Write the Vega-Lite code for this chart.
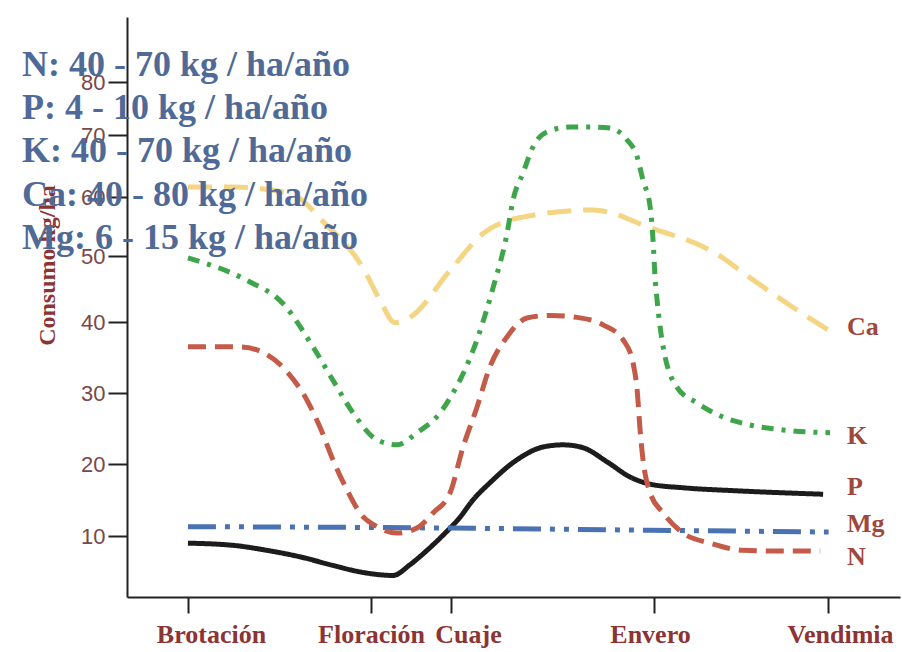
{
  "$schema": "https://vega.github.io/schema/vega-lite/v6.json",
  "width": 773,
  "height": 580,
  "autosize": {"type": "none"},
  "padding": {"left": 127, "top": 17, "right": 2, "bottom": 55},
  "background": "white",
  "config": {"view": {"stroke": null}},
  "title": {
    "text": ["N: 40 - 70 kg / ha/año", "P: 4 - 10 kg / ha/año", "K: 40 - 70 kg / ha/año", "Ca: 40 - 80 kg / ha/año", "Mg: 6 - 15 kg / ha/año"],
    "orient": "top",
    "anchor": "start",
    "frame": "group",
    "offset": 0,
    "dx": -105,
    "dy": 268,
    "baseline": "alphabetic",
    "align": "left",
    "font": "Liberation Serif",
    "fontSize": 36,
    "fontWeight": "bold",
    "color": "#506a98",
    "lineHeight": 43.3
  },
  "datasets": {
    "curves": [
      {"series": "Ca", "t": 0, "v": 61.6},
      {"series": "Ca", "t": 2.46, "v": 61.6},
      {"series": "Ca", "t": 5.57, "v": 60.6},
      {"series": "Ca", "t": 7.49, "v": 55.5},
      {"series": "Ca", "t": 9.56, "v": 48.2},
      {"series": "Ca", "t": 10.49, "v": 43.3},
      {"series": "Ca", "t": 11.31, "v": 39.9},
      {"series": "Ca", "t": 12.13, "v": 40.7},
      {"series": "Ca", "t": 14.32, "v": 47.8},
      {"series": "Ca", "t": 16.12, "v": 53.8},
      {"series": "Ca", "t": 17.98, "v": 56.4},
      {"series": "Ca", "t": 22.13, "v": 57.8},
      {"series": "Ca", "t": 25.25, "v": 54.8},
      {"series": "Ca", "t": 28.91, "v": 50.3},
      {"series": "Ca", "t": 30.71, "v": 46.7},
      {"series": "Ca", "t": 32.9, "v": 42.5},
      {"series": "Ca", "t": 34.97, "v": 38.9},

      {"series": "K", "t": 0, "v": 49.7},
      {"series": "K", "t": 3.22, "v": 46.3},
      {"series": "K", "t": 5.19, "v": 42.8},
      {"series": "K", "t": 6.83, "v": 36.5},
      {"series": "K", "t": 7.92, "v": 31.8},
      {"series": "K", "t": 9.02, "v": 27.2},
      {"series": "K", "t": 10.33, "v": 23.4},
      {"series": "K", "t": 11.42, "v": 22.7},
      {"series": "K", "t": 12.51, "v": 24.4},
      {"series": "K", "t": 13.77, "v": 27.2},
      {"series": "K", "t": 14.32, "v": 29.3},
      {"series": "K", "t": 15.79, "v": 37.5},
      {"series": "K", "t": 16.67, "v": 45.2},
      {"series": "K", "t": 17.43, "v": 53.8},
      {"series": "K", "t": 17.76, "v": 59.5},
      {"series": "K", "t": 18.31, "v": 63.9},
      {"series": "K", "t": 18.85, "v": 68.1},
      {"series": "K", "t": 19.62, "v": 70.6},
      {"series": "K", "t": 20.87, "v": 71.5},
      {"series": "K", "t": 21.97, "v": 71.5},
      {"series": "K", "t": 23.06, "v": 71.3},
      {"series": "K", "t": 23.99, "v": 69.2},
      {"series": "K", "t": 24.54, "v": 66.5},
      {"series": "K", "t": 24.86, "v": 62.7},
      {"series": "K", "t": 25.25, "v": 58.3},
      {"series": "K", "t": 25.41, "v": 52.6},
      {"series": "K", "t": 25.52, "v": 46.7},
      {"series": "K", "t": 25.63, "v": 43.3},
      {"series": "K", "t": 25.96, "v": 36.5},
      {"series": "K", "t": 26.72, "v": 30.8},
      {"series": "K", "t": 27.81, "v": 28.6},
      {"series": "K", "t": 29.23, "v": 26.6},
      {"series": "K", "t": 30.71, "v": 25.5},
      {"series": "K", "t": 32.51, "v": 24.8},
      {"series": "K", "t": 35.08, "v": 24.4},

      {"series": "P", "t": 0, "v": 9.0},
      {"series": "P", "t": 2.46, "v": 8.7},
      {"series": "P", "t": 4.32, "v": 8.0},
      {"series": "P", "t": 6.12, "v": 7.1},
      {"series": "P", "t": 7.92, "v": 5.9},
      {"series": "P", "t": 9.4, "v": 5.0},
      {"series": "P", "t": 10.49, "v": 4.6},
      {"series": "P", "t": 11.2, "v": 4.5},
      {"series": "P", "t": 12.13, "v": 6.0},
      {"series": "P", "t": 13.06, "v": 8.0},
      {"series": "P", "t": 13.93, "v": 10.1},
      {"series": "P", "t": 14.86, "v": 12.6},
      {"series": "P", "t": 15.57, "v": 15.0},
      {"series": "P", "t": 16.5, "v": 17.4},
      {"series": "P", "t": 17.98, "v": 20.6},
      {"series": "P", "t": 19.4, "v": 22.4},
      {"series": "P", "t": 20.49, "v": 22.7},
      {"series": "P", "t": 21.58, "v": 22.3},
      {"series": "P", "t": 22.9, "v": 20.3},
      {"series": "P", "t": 24.15, "v": 18.2},
      {"series": "P", "t": 25.25, "v": 17.2},
      {"series": "P", "t": 27.05, "v": 16.7},
      {"series": "P", "t": 29.78, "v": 16.3},
      {"series": "P", "t": 32.51, "v": 16.0},
      {"series": "P", "t": 34.7, "v": 15.8},

      {"series": "Mg", "t": 0, "v": 11.3},
      {"series": "Mg", "t": 14.3, "v": 11.1},
      {"series": "Mg", "t": 25.2, "v": 10.8},
      {"series": "Mg", "t": 35.0, "v": 10.55},

      {"series": "N", "t": 0, "v": 36.5},
      {"series": "N", "t": 2.84, "v": 36.5},
      {"series": "N", "t": 4.32, "v": 35.4},
      {"series": "N", "t": 5.41, "v": 33.0},
      {"series": "N", "t": 6.5, "v": 29.0},
      {"series": "N", "t": 7.21, "v": 25.2},
      {"series": "N", "t": 7.92, "v": 20.6},
      {"series": "N", "t": 8.69, "v": 16.4},
      {"series": "N", "t": 9.4, "v": 13.2},
      {"series": "N", "t": 10.33, "v": 11.3},
      {"series": "N", "t": 11.42, "v": 10.4},
      {"series": "N", "t": 12.51, "v": 11.1},
      {"series": "N", "t": 13.39, "v": 13.2},
      {"series": "N", "t": 14.32, "v": 16.0},
      {"series": "N", "t": 15.03, "v": 22.4},
      {"series": "N", "t": 15.79, "v": 28.0},
      {"series": "N", "t": 16.5, "v": 33.7},
      {"series": "N", "t": 17.43, "v": 37.9},
      {"series": "N", "t": 18.52, "v": 40.6},
      {"series": "N", "t": 19.78, "v": 41.0},
      {"series": "N", "t": 21.26, "v": 40.7},
      {"series": "N", "t": 22.68, "v": 39.6},
      {"series": "N", "t": 23.77, "v": 37.5},
      {"series": "N", "t": 24.32, "v": 34.2},
      {"series": "N", "t": 24.54, "v": 30.4},
      {"series": "N", "t": 24.7, "v": 24.8},
      {"series": "N", "t": 24.86, "v": 20.6},
      {"series": "N", "t": 25.25, "v": 16.0},
      {"series": "N", "t": 25.96, "v": 13.2},
      {"series": "N", "t": 27.05, "v": 10.4},
      {"series": "N", "t": 28.52, "v": 9.0},
      {"series": "N", "t": 30.33, "v": 8.0},
      {"series": "N", "t": 32.51, "v": 7.9},
      {"series": "N", "t": 34.54, "v": 7.9}
    ],
    "labels": [
      {"series": "Ca", "t": 36.0, "v": 39.3},
      {"series": "K", "t": 36.0, "v": 23.9},
      {"series": "P", "t": 36.0, "v": 16.8},
      {"series": "Mg", "t": 36.0, "v": 11.7},
      {"series": "N", "t": 36.0, "v": 7.1}
    ]
  },
  "layer": [
    {
      "data": {"name": "curves"},
      "mark": {"type": "line", "interpolate": "monotone", "strokeWidth": 5, "strokeCap": "butt"},
      "encoding": {
        "x": {
          "field": "t",
          "type": "quantitative",
          "scale": {"domain": [-3.33, 38.9], "nice": false, "zero": false},
          "axis": {
            "title": null,
            "grid": false,
            "values": [0, 10, 14.37, 25.46, 34.97],
            "labelExpr": "datum.value < 1 ? 'Brotación' : datum.value < 11 ? 'Floración' : datum.value < 20 ? 'Cuaje' : datum.value < 30 ? 'Envero' : 'Vendimia'",
            "labelOverlap": false,
            "labelFont": "Liberation Serif",
            "labelFontWeight": "bold",
            "labelFontSize": 26,
            "labelColor": "#8c3434",
            "labelPadding": 8,
            "labelOffset": {
              "condition": [
                {"test": "datum.value < 1", "value": 23},
                {"test": "datum.value > 14 && datum.value < 15", "value": 17},
                {"test": "datum.value > 25 && datum.value < 26", "value": -4},
                {"test": "datum.value > 30", "value": 12}
              ],
              "value": 0
            },
            "domainColor": "#222222",
            "domainWidth": 2,
            "tickColor": "#222222",
            "tickWidth": 2,
            "tickSize": 16
          }
        },
        "y": {
          "field": "v",
          "type": "quantitative",
          "scale": {
            "domain": [1.5, 10, 20, 30, 40, 50, 60, 70, 80, 92.3],
            "range": [580, 519, 447, 376, 305, 239, 180, 118, 65, 0],
            "nice": false,
            "zero": false
          },
          "axis": {
            "title": "Consumo kg/ha",
            "titleFont": "Liberation Serif",
            "titleFontWeight": "bold",
            "titleFontSize": 24,
            "titleColor": "#8c3434",
            "titleX": -80,
            "titleY": 248,
            "titleAngle": 270,
            "titleAlign": "center",
            "titleBaseline": "middle",
            "grid": false,
            "values": [10, 20, 30, 40, 50, 60, 70, 80],
            "labelFont": "Liberation Sans",
            "labelFontSize": 22,
            "labelColor": "#7a4848",
            "labelPadding": 3,
            "domainColor": "#222222",
            "domainWidth": 2,
            "tickColor": "#222222",
            "tickWidth": 2,
            "tickSize": 19
          }
        },
        "color": {
          "field": "series",
          "type": "nominal",
          "scale": {
            "domain": ["Ca", "K", "P", "Mg", "N"],
            "range": ["#f4d584", "#3fa54a", "#1c1c1c", "#4a72b2", "#c45a48"]
          },
          "legend": null
        },
        "strokeDash": {
          "field": "series",
          "type": "nominal",
          "scale": {
            "domain": ["Ca", "K", "P", "Mg", "N"],
            "range": [[24, 12], [12, 8, 4, 8], [1, 0], [28, 9, 5, 9, 5, 9], [18, 9]]
          },
          "legend": null
        }
      }
    },
    {
      "data": {"name": "labels"},
      "mark": {
        "type": "text",
        "align": "left",
        "baseline": "middle",
        "font": "Liberation Serif",
        "fontWeight": "bold",
        "fontSize": 26,
        "color": "#a0473b"
      },
      "encoding": {
        "x": {"field": "t", "type": "quantitative"},
        "y": {"field": "v", "type": "quantitative"},
        "text": {"field": "series"}
      }
    }
  ]
}
